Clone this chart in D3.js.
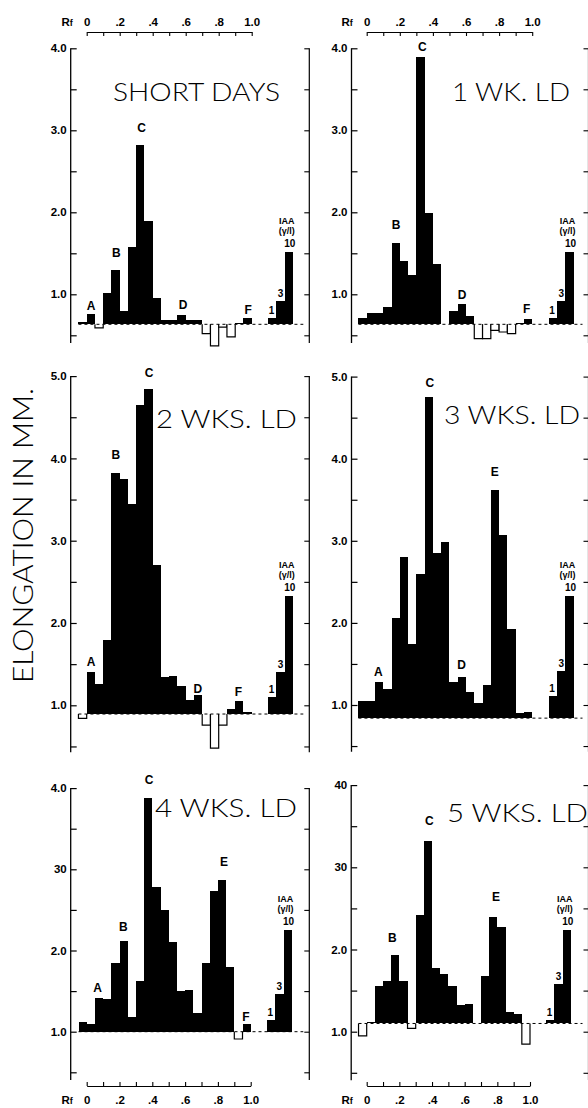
<!DOCTYPE html>
<html><head><meta charset="utf-8">
<script src="https://cdn.jsdelivr.net/npm/d3@7"></script>
<style>body{margin:0;background:#fff}svg{display:block}</style>
</head><body>
<svg id="c" width="588" height="1108"></svg>
<script>
// ---------- DATA ----------
const rfBins = [-0.05,0,0.05,0.10,0.15,0.20,0.25,0.30,0.35,0.40,0.45,0.50,0.55,0.60,0.65,0.70,0.75,0.80,0.85,0.90,0.95];
const iaaBins = [1.10,1.15,1.20];
const iaaDoses = ["1","3","10"];
const rfTicks = [0,0.1,0.2,0.3,0.4,0.5,0.6,0.7,0.8,0.9,1.0];
const rfTickLabels = ["0","",".2","",".4","",".6","",".8","","1.0"];

const titles = ["SHORT DAYS","1 WK. LD","2 WKS. LD","3 WKS. LD","4 WKS. LD","5 WKS. LD"];

const valsShort = [0.66,0.76,0.59,1.02,1.30,0.80,1.58,2.82,1.90,0.95,0.69,0.69,0.75,0.69,0.69,0.52,0.37,0.60,0.48,0.65,0.71];
const vals1wk   = [0.71,0.77,0.77,0.84,1.63,1.41,1.23,3.90,1.99,1.37,null,0.80,0.88,0.73,0.46,0.46,0.56,0.54,0.52,0.65,0.70];
const vals2wk   = [0.84,1.40,1.26,1.79,3.82,3.75,3.45,4.65,4.84,2.70,1.34,1.35,1.24,1.06,1.13,0.76,0.48,0.76,0.95,1.05,0.92];
const vals3wk   = [1.05,1.05,1.28,1.20,2.06,2.80,1.74,2.60,4.75,2.85,2.98,1.28,1.34,1.16,1.03,1.24,3.62,3.07,1.92,0.90,0.92];
const vals4wk   = [1.12,1.09,1.42,1.40,1.84,2.12,1.18,1.62,3.88,2.78,2.50,2.11,1.50,1.51,1.23,1.84,2.73,2.87,1.80,0.91,1.10];
const vals5wk   = [0.95,1.12,1.55,1.62,1.93,1.62,1.04,2.42,3.32,1.78,1.70,1.55,1.33,1.34,null,1.68,2.40,2.27,1.24,1.22,0.85];

const iaaShort = [0.71,0.92,1.52];
const iaa1wk   = [0.71,0.92,1.52];
const iaa2wk   = [1.10,1.40,2.33];
const iaa3wk   = [1.11,1.41,2.33];
const iaa4wk   = [1.14,1.47,2.25];
const iaa5wk   = [1.14,1.58,2.24];

const baselines = [0.634,0.634,0.894,0.84,1.00,1.10];

const yTicks4 = [0.5,1,1.5,2,2.5,3,3.5,4];
const yTicks5 = [0.5,1,1.5,2,2.5,3,3.5,4,4.5,5];
const yLabShort = ["","1.0","","2.0","","3.0","","4.0"];
const yLab1wk   = ["","1.0","","2.0","","3.0","","4.0"];
const yLab2wk   = ["","1.0","","2.0","","3.0","","4.0","","5.0"];
const yLab3wk   = ["","1.0","","2.0","","3.0","","4.0","","5.0"];
const yLab4wk   = ["","1.0","","2.0","","30","","4.0"];
const yLab5wk   = ["","1.0","","2.0","","30","","40"];

// peak letters: [letter, Rf, elongation]
const lettersShort = [["A",0.026,0.86],["B",0.18,1.51],["C",0.333,3.03],["D",0.584,0.87],["F",0.978,0.81]];
const letters1wk   = [["B",0.177,1.85],["C",0.336,4.02],["D",0.577,1.0],["F",0.966,0.83]];
const letters2wk   = [["A",0.026,1.53],["B",0.176,4.05],["C",0.378,5.04],["D",0.673,1.21],["F",0.919,1.17]];
const letters3wk   = [["A",0.07,1.41],["B",0.221,1.98],["C",0.382,4.93],["D",0.573,1.49],["E",0.774,3.84]];
const letters4wk   = [["A",0.067,1.54],["B",0.223,2.29],["C",0.38,4.10],["E",0.837,3.09],["F",0.971,1.19]];
const letters5wk   = [["B",0.157,2.14],["C",0.383,3.57],["E",0.792,2.65]];

// ---------- LAYOUT ----------
const FONT = "'Liberation Sans', Arial, Helvetica, sans-serif";
const LIGHT = "Lato, 'Liberation Sans', Arial, sans-serif";
const panels = [
  {vals:valsShort, iaa:iaaShort, letters:lettersShort, yt:yTicks4, yl:yLabShort, xr:[86.7,251.7], yAxisX:70.7, rightX:309.3, yd:[1,4], yr:[294.3,48.3], ymin:0.406, rf:"top", rfY:32,
   title:{x:113,y:100.5,len:167}},
  {vals:vals1wk, iaa:iaa1wk, letters:letters1wk, yt:yTicks4, yl:yLab1wk, xr:[366.7,532.2], yAxisX:351.5, rightX:588.5, yd:[1,4], yr:[294.3,48.3], ymin:0.406, rf:"top", rfY:32,
   title:{x:452,y:100.5,len:118}},
  {vals:vals2wk, iaa:iaa2wk, letters:letters2wk, yt:yTicks5, yl:yLab2wk, xr:[86.7,251.7], yAxisX:70.7, rightX:309.3, yd:[1,5], yr:[705.3,376.1], ymin:0.43, rf:null,
   title:{x:156,y:428,len:141}},
  {vals:vals3wk, iaa:iaa3wk, letters:letters3wk, yt:yTicks5, yl:yLab3wk, xr:[366.7,532.2], yAxisX:351.5, rightX:588.5, yd:[1,5], yr:[705,376.6], ymin:0.43, rf:null,
   title:{x:444,y:424,len:136}},
  {vals:vals4wk, iaa:iaa4wk, letters:letters4wk, yt:yTicks4, yl:yLab4wk, xr:[86.7,250.7], yAxisX:70.7, rightX:309.3, yd:[1,4], yr:[1031.7,788.1], ymin:0.405, rf:"bottom", rfY:1086,
   title:{x:155,y:817,len:142}},
  {vals:vals5wk, iaa:iaa5wk, letters:letters5wk, yt:yTicks4, yl:yLab5wk, xr:[366.7,530], yAxisX:351.2, rightX:588.5, yd:[1,4], yr:[1031.7,785.1], ymin:0.41, rf:"bottom", rfY:1086,
   title:{x:447,y:822,len:141}}
];

const svg = d3.select("#c");

panels.forEach((p, pi) => {
  const x = d3.scaleLinear().domain([0,1]).range(p.xr);
  const y = d3.scaleLinear().domain(p.yd).range(p.yr);
  const base = baselines[pi];
  const g = svg.append("g");
  const top = p.yt[p.yt.length-1];

  // left y axis
  const axL = g.append("g").attr("transform", `translate(${p.yAxisX},0)`)
    .call(d3.axisLeft(y).tickValues(p.yt).tickSizeInner(-6).tickSizeOuter(0).tickPadding(4)
      .tickFormat((d,i) => p.yl[i]));
  axL.select(".domain").attr("d", `M0,${y(top)}V${y(p.ymin)}`).attr("stroke","#000").attr("stroke-width",1.3);
  axL.selectAll(".tick line").attr("stroke","#000").attr("stroke-width",1.2);
  axL.selectAll(".tick text").attr("font-family",FONT).attr("font-weight","bold").attr("font-size",11.5).attr("fill","#000");

  // right border axis
  const axR = g.append("g").attr("transform", `translate(${p.rightX},0)`)
    .call(d3.axisRight(y).tickValues(p.yt).tickSizeInner(-5).tickSizeOuter(0).tickFormat(""));
  axR.select(".domain").attr("d", `M0,${y(top)}V${y(p.ymin)}`).attr("stroke","#000").attr("stroke-width",1.2);
  axR.selectAll(".tick line").attr("stroke","#000").attr("stroke-width",1.1);

  // Rf axis
  if (p.rf) {
    const ax = (p.rf === "top" ? d3.axisTop(x).tickPadding(6) : d3.axisBottom(x).tickPadding(10))
      .tickValues(rfTicks).tickSizeInner(-4).tickSizeOuter(0)
      .tickFormat((d,i) => rfTickLabels[i]);
    const ga = g.append("g").attr("transform", `translate(0,${p.rfY})`).call(ax);
    ga.select(".domain").attr("stroke","#000").attr("stroke-width",1.2);
    ga.selectAll(".tick line").attr("stroke","#000").attr("stroke-width",1.1);
    ga.selectAll(".tick text").attr("font-family",FONT).attr("font-weight","bold").attr("font-size",11.5).attr("fill","#000");
    const rfT = g.append("text").attr("x", x(0)-14)
      .attr("y", p.rf === "top" ? p.rfY-6 : p.rfY+18)
      .attr("text-anchor","end").attr("font-family",FONT).attr("font-weight","bold").attr("font-size",11.5);
    rfT.append("tspan").text("R");
    rfT.append("tspan").attr("font-size",9).text("f");
  }

  // bars
  const drawBar = (x0, x1, v) => {
    if (v == null) return;
    if (v >= base) {
      g.append("rect").attr("x",x0).attr("width",x1-x0).attr("y",y(v)).attr("height",y(base)-y(v))
        .attr("fill","#000").attr("shape-rendering","crispEdges");
    } else {
      g.append("path").attr("d",`M${x0},${y(base)}V${y(v)}H${x1}V${y(base)}`)
        .attr("fill","#fff").attr("stroke","#000").attr("stroke-width",1.2);
    }
  };
  p.vals.forEach((v,i) => drawBar(x(rfBins[i]), x(rfBins[i]+0.05), v));
  p.iaa.forEach((v,i) => drawBar(x(iaaBins[i]), x(iaaBins[i]+0.05), v));

  // dashed baseline
  g.append("line").attr("x1", x(rfBins[0])).attr("x2", p.rightX-6)
    .attr("y1", y(base)).attr("y2", y(base))
    .attr("stroke","#000").attr("stroke-width",1).attr("stroke-dasharray","3,3");

  // peak letters
  p.letters.forEach(([t, rf, v]) => {
    g.append("text").attr("x", x(rf)).attr("y", y(v)+4.5).attr("text-anchor","middle")
      .attr("font-family",FONT).attr("font-weight","bold").attr("font-size",12).text(t);
  });

  // IAA labels
  const i10x = x(iaaBins[2]+0.025), i10y = y(p.iaa[2]);
  const lab = (tx, tx_x, tx_y, fs) => g.append("text").attr("x",tx_x).attr("y",tx_y).attr("text-anchor","middle")
      .attr("font-family",FONT).attr("font-weight","bold").attr("font-size",fs).text(tx);
  lab("IAA", i10x-2, i10y-28, 9);
  lab("(γ/l)", i10x-2, i10y-18, 9);
  lab(iaaDoses[2], i10x+1, i10y-5, 10);
  lab(iaaDoses[1], x(iaaBins[1]+0.025), y(p.iaa[1])-4, 10);
  lab(iaaDoses[0], x(iaaBins[0]+0.02), y(p.iaa[0])-4, 10);

  // title
  svg.append("text").attr("x", p.title.x).attr("y", p.title.y)
    .attr("font-family",LIGHT).attr("font-weight",300).attr("font-size",26)
    .attr("textLength",p.title.len).attr("lengthAdjust","spacingAndGlyphs")
    .text(titles[pi]);
});

// y-axis title
svg.append("text").attr("transform","translate(33,535.5) rotate(-90)")
  .attr("text-anchor","middle").attr("font-family",LIGHT).attr("font-weight",300).attr("font-size",28)
  .attr("textLength",295).attr("lengthAdjust","spacingAndGlyphs")
  .text("ELONGATION  IN  MM.");
</script>
</body></html>
